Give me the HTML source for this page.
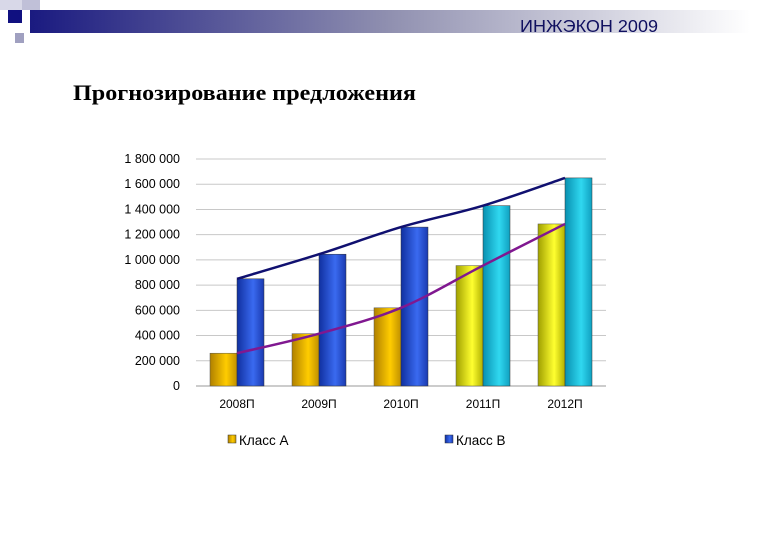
<!DOCTYPE html>
<html><head><meta charset="utf-8"><style>
body{margin:0;width:780px;height:540px;background:#fff;overflow:hidden;font-family:"Liberation Sans",sans-serif}
</style></head><body>
<svg width="780" height="540">
<defs>
<linearGradient id="hdr" x1="0" x2="1"><stop offset="0" stop-color="#1a1a80"/><stop offset="0.5" stop-color="#9090b0"/><stop offset="1" stop-color="#ffffff"/></linearGradient>
<linearGradient id="ga" x1="0" x2="1"><stop offset="0" stop-color="#b08000"/><stop offset="0.6" stop-color="#ffcc00"/><stop offset="1" stop-color="#c09000"/></linearGradient>
<linearGradient id="gy" x1="0" x2="1"><stop offset="0" stop-color="#a0a000"/><stop offset="0.6" stop-color="#ffff30"/><stop offset="1" stop-color="#b0b000"/></linearGradient>
<linearGradient id="gb" x1="0" x2="1"><stop offset="0" stop-color="#1030a0"/><stop offset="0.6" stop-color="#3a6af0"/><stop offset="1" stop-color="#1a3ab0"/></linearGradient>
<linearGradient id="gc" x1="0" x2="1"><stop offset="0" stop-color="#0890b0"/><stop offset="0.6" stop-color="#30d8f0"/><stop offset="1" stop-color="#10a0c0"/></linearGradient>
</defs>
<g>
<rect x="30" y="10" width="720" height="23" fill="url(#hdr)"/>
<rect x="0" y="0" width="30" height="10" fill="#d8d8e8"/>
<rect x="8" y="10" width="14" height="13" fill="#101080"/>
<rect x="22" y="0" width="18" height="10" fill="#c0c0d8"/>
<rect x="15" y="33" width="9" height="10" fill="#a0a0c0"/>
<text x="520" y="32" font-size="17.5" fill="#101060" textLength="138" lengthAdjust="spacingAndGlyphs">ИНЖЭКОН 2009</text>
</g>
<text x="73" y="100" font-family="Liberation Serif,serif" font-weight="bold" font-size="22" textLength="343" lengthAdjust="spacingAndGlyphs">Прогнозирование предложения</text>
<g id="chart"></g>
</svg>
<script>
const categories=["2008П","2009П","2010П","2011П","2012П"];
const classA=[260000,415000,620000,955000,1285000];
const classB=[850000,1045000,1260000,1430000,1650000];
const yTicks=[0,200000,400000,600000,800000,1000000,1200000,1400000,1600000,1800000];
const NS="http://www.w3.org/2000/svg";
const g=document.getElementById('chart');
const x0=196,x1=606,yb=386,yt=159,ymax=1800000;
const y=v=>yb-(yb-yt)*v/ymax;
const cw=(x1-x0)/categories.length;
const xc=i=>x0+cw*(i+0.5);
function el(t,a){const e=document.createElementNS(NS,t);for(const k in a)e.setAttribute(k,a[k]);g.appendChild(e);return e;}
const fmt=v=>v.toString().replace(/\B(?=(\d{3})+(?!\d))/g," ");
yTicks.forEach(v=>{
 const l=el('line',{x1:x0,x2:x1,y1:y(v),y2:y(v),stroke:v?'#c8c8c8':'#999','stroke-width':1});
 
 
 const t=el('text',{x:180,y:y(v)+4,'text-anchor':'end','font-size':12.5,fill:'#000'});
 t.textContent=fmt(v);
 
 
});
const bw=27;
categories.forEach((c,i)=>{
 const cx=xc(i);
 const a=el('rect',{x:cx-bw,y:y(classA[i]),width:bw,height:yb-y(classA[i]),fill:i<3?'url(#ga)':'url(#gy)',stroke:'#555','stroke-width':0.5});
 
 
 const b=el('rect',{x:cx,y:y(classB[i]),width:bw,height:yb-y(classB[i]),fill:i<3?'url(#gb)':'url(#gc)',stroke:'#333','stroke-width':0.5});
 
 
 const t=el('text',{x:cx,y:408,'text-anchor':'middle','font-size':12});
 t.textContent=c;
 
 
});
function smooth(vals){let p=vals.map((v,i)=>[xc(i),y(v)]);let d='M'+p[0];for(let i=1;i<p.length;i++){const p0=p[i-2]||p[i-1],p1=p[i-1],p2=p[i],p3=p[i+1]||p2;d+=' C'+(p1[0]+(p2[0]-p0[0])/6)+','+(p1[1]+(p2[1]-p0[1])/6)+' '+(p2[0]-(p3[0]-p1[0])/6)+','+(p2[1]-(p3[1]-p1[1])/6)+' '+p2;}return d;}
const la=el('path',{d:smooth(classA),fill:'none',stroke:'#801890','stroke-width':2.5});


const lb=el('path',{d:smooth(classB),fill:'none',stroke:'#101070','stroke-width':2.5});


[[228,'url(#ga)','Класс А'],[445,'url(#gb)','Класс В']].forEach(([lx,f,s])=>{
 const r=el('rect',{x:lx,y:435,width:8,height:8,fill:f,stroke:'#333','stroke-width':0.5});
 
 
 const t=el('text',{x:lx+11,y:445,'font-size':13.5});
 t.textContent=s;
 
 
});
</script>
</body></html>
